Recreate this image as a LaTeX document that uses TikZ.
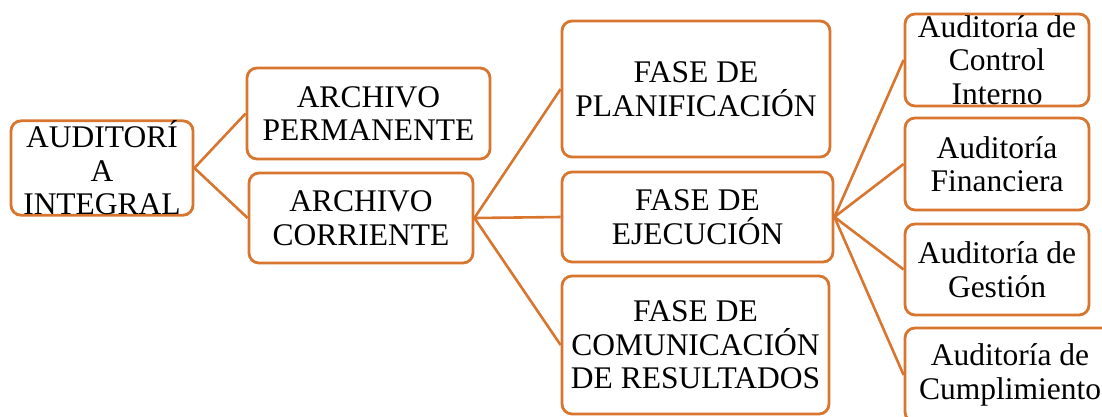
\documentclass[tikz,border=0pt]{standalone}
\usepackage{fontspec}
\setmainfont{Liberation Serif}
\definecolor{boxorange}{RGB}{216,118,48}
\begin{document}
\begin{tikzpicture}[x=1pt,y=-1pt,
  box/.style={draw=boxorange, line width=2.8pt, rounded corners=10pt, fill=white,
    align=center, inner sep=0pt, font=\fontsize{31.5}{33.5}\selectfont},
  link/.style={draw=boxorange, line width=2.6pt}]
\useasboundingbox (0,0) rectangle (1102,416);
\clip (0,0) rectangle (1102,416);
\node[box, minimum width=182pt, minimum height=90pt] (A) at (102,168) {AUDITORÍ\\A\\INTEGRAL};
\node[box, minimum width=243pt, minimum height=91pt] (P) at (368.5,113.5) {ARCHIVO\\PERMANENTE};
\node[box, minimum width=224pt, minimum height=90pt] (C) at (361,218) {ARCHIVO\\CORRIENTE};
\node[box, minimum width=268pt, minimum height=136pt] (F1) at (696,89) {FASE DE\\PLANIFICACIÓN};
\node[box, minimum width=271pt, minimum height=90pt] (F2) at (697.5,217) {FASE DE\\EJECUCIÓN};
\node[box, minimum width=267pt, minimum height=138pt] (F3) at (695.5,345) {FASE DE\\COMUNICACIÓN\\DE RESULTADOS};
\node[box, minimum width=184pt, minimum height=92pt] (R1) at (997,60) {Auditoría de\\Control\\Interno};
\node[box, minimum width=184pt, minimum height=92pt] (R2) at (997,164) {Auditoría\\Financiera};
\node[box, minimum width=184pt, minimum height=91pt] (R3) at (997,269.5) {Auditoría de\\Gestión};
\node[box, minimum width=210pt, minimum height=94pt] (R4) at (1010,375) {Auditoría de\\Cumplimiento};
\draw[link] (A.east) -- (P.west);
\draw[link] (A.east) -- (C.west);
\draw[link] (C.east) -- (F1.west);
\draw[link] (C.east) -- (F2.west);
\draw[link] (C.east) -- (F3.west);
\draw[link] (F2.east) -- (R1.west);
\draw[link] (F2.east) -- (R2.west);
\draw[link] (F2.east) -- (R3.west);
\draw[link] (F2.east) -- (R4.west);
\end{tikzpicture}
\end{document}
